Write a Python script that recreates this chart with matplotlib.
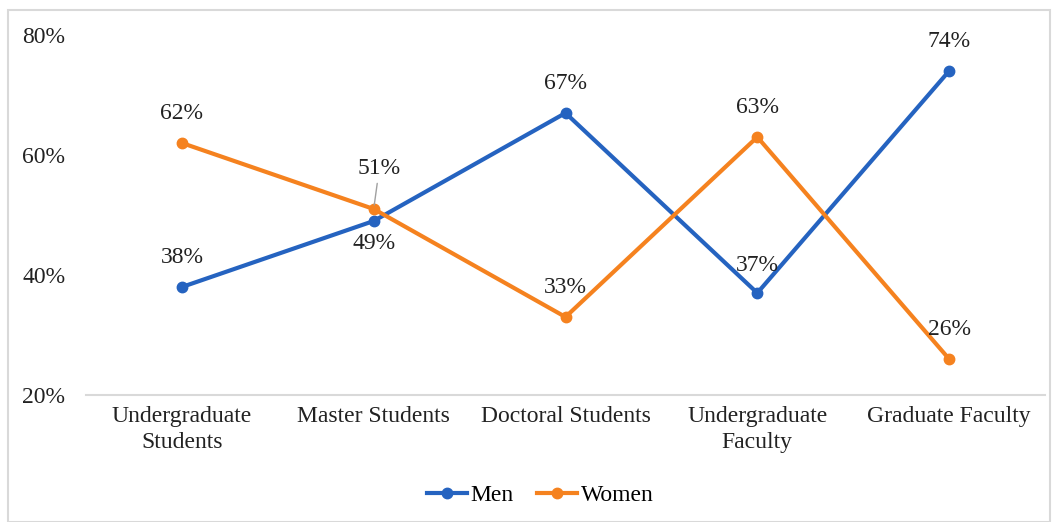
import matplotlib.pyplot as plt
from matplotlib.patches import Rectangle

categories = ["Undergraduate\nStudents", "Master Students", "Doctoral Students",
              "Undergraduate\nFaculty", "Graduate Faculty"]
men = [38, 49, 67, 37, 74]
women = [62, 51, 33, 63, 26]
yticks = [20, 40, 60, 80]

blue = "#2563C0"
orange = "#F5821F"
FS = 17

plt.rcParams['font.family'] = ['Liberation Serif', 'DejaVu Serif']

fig = plt.figure(figsize=(10.59, 5.22), dpi=100)
ax = fig.add_axes([86 / 1059, 1 - 395 / 522, (1045 - 86) / 1059, 360 / 522])

x = list(range(len(categories)))
ax.plot(x, men, color=blue, lw=3, marker='o', ms=7.5, label="Men", zorder=3)
ax.plot(x, women, color=orange, lw=3, marker='o', ms=7.5, label="Women", zorder=3)

# label offsets in points (dx, dy), text centred
men_off = [(0, 21), (0, -16), (0, 21), (0, 20), (0, 21)]
women_off = [(0, 21), (4, 29), (0, 21), (0, 21), (0, 21)]

for i, v in enumerate(men):
    ax.annotate(f"{v}%", (i, v), xytext=men_off[i], textcoords='offset points',
                ha='center', va='center', fontsize=FS, color='#222222', zorder=4)

for i, v in enumerate(women):
    kw = {}
    if i == 1:
        kw['arrowprops'] = dict(arrowstyle='-', color='#A0A0A0', lw=1,
                                shrinkA=1, shrinkB=3)
    ax.annotate(f"{v}%", (i, v), xytext=women_off[i], textcoords='offset points',
                ha='center', va='center', fontsize=FS, color='#222222', zorder=4, **kw)

ax.set_xlim(-0.5, len(categories) - 0.5)
ax.set_ylim(20, 80)
ax.set_yticks(yticks)
ax.set_yticklabels([f"{t}%" for t in yticks], fontsize=FS)
ax.set_xticks(x)
ax.set_xticklabels(categories, fontsize=FS, linespacing=1.3)
ax.tick_params(axis='both', length=0, colors='#222222')
ax.tick_params(axis='y', pad=15)
ax.tick_params(axis='x', pad=8)
for s in ['top', 'right', 'left']:
    ax.spines[s].set_visible(False)
ax.spines['bottom'].set_color('#D9D9D9')
ax.spines['bottom'].set_linewidth(1.5)

leg = fig.legend(loc='center', bbox_to_anchor=(540 / 1059, 1 - 495 / 522), ncol=2,
                 frameon=False, fontsize=FS, handlelength=1.7, handletextpad=0.15,
                 columnspacing=1.0)

fig.patches.append(Rectangle((8 / 1059, 0), 1042 / 1059, 1 - 10 / 522,
                             transform=fig.transFigure, fill=False,
                             edgecolor='#D9D9D9', lw=1.5))

fig.savefig("out.png", dpi=100)
